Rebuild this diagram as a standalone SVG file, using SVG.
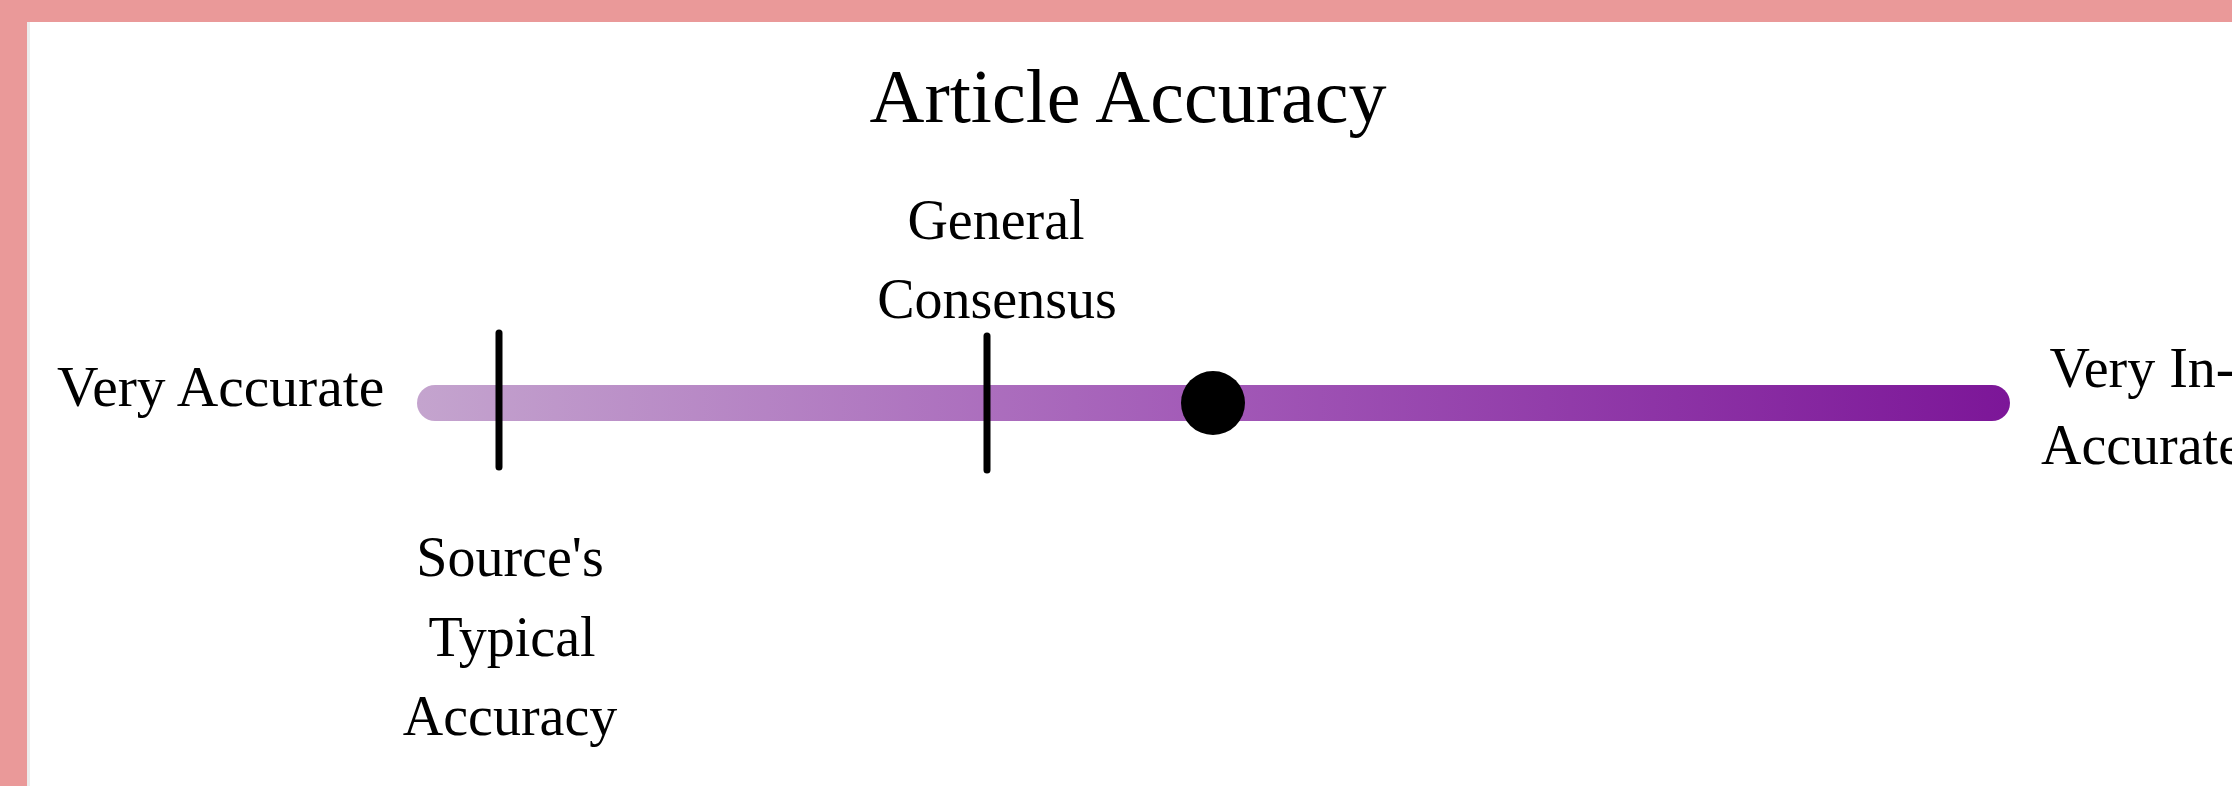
<svg xmlns="http://www.w3.org/2000/svg" width="2232" height="786" viewBox="0 0 2232 786">
<defs>
<style>
.t{font-family:"Liberation Serif","Times New Roman",serif;font-size:56px;fill:#000;}
.title{font-size:76px;}
.tick{stroke:#000;stroke-width:7;stroke-linecap:round;}
</style>
<linearGradient id="grad" x1="417" y1="0" x2="2010" y2="0" gradientUnits="userSpaceOnUse">
<stop offset="0" stop-color="#C4A4CE"/>
<stop offset="0.5" stop-color="#A259B7"/>
<stop offset="1" stop-color="#7C1698"/>
</linearGradient>
</defs>
<rect x="0" y="0" width="2232" height="786" fill="#ffffff"/>
<rect x="0" y="0" width="2232" height="22" fill="#EA9999"/>
<rect x="0" y="0" width="27" height="786" fill="#EA9999"/>
<rect x="27" y="22" width="3" height="764" fill="#ececec"/>
<g id="title"><text class="t title" x="1128" y="122" text-anchor="middle">Article Accuracy</text></g>
<g id="scale">
<rect x="417" y="385" width="1593" height="36" rx="18" fill="url(#grad)"/>
</g>
<g id="label-left"><text class="t" x="57" y="406" style="font-size:57.5px">Very Accurate</text></g>
<g id="label-right"><text class="t" text-anchor="middle"><tspan x="2142" y="387">Very In-</tspan><tspan x="2142" y="464">Accurate</tspan></text></g>
<g id="connectors">
<line class="tick" x1="499" y1="333" x2="499" y2="467"/>
<line class="tick" x1="987" y1="336" x2="987" y2="470"/>
</g>
<g id="source-typical"><text class="t" text-anchor="middle"><tspan x="510" y="576">Source's</tspan><tspan x="512" y="656">Typical</tspan><tspan x="510" y="735">Accuracy</tspan></text></g>
<g id="general-consensus"><text class="t" text-anchor="middle"><tspan x="996" y="239">General</tspan><tspan x="997" y="318">Consensus</tspan></text></g>
<g id="article-marker"><circle cx="1213" cy="403" r="32" fill="#000"/></g>
</svg>
